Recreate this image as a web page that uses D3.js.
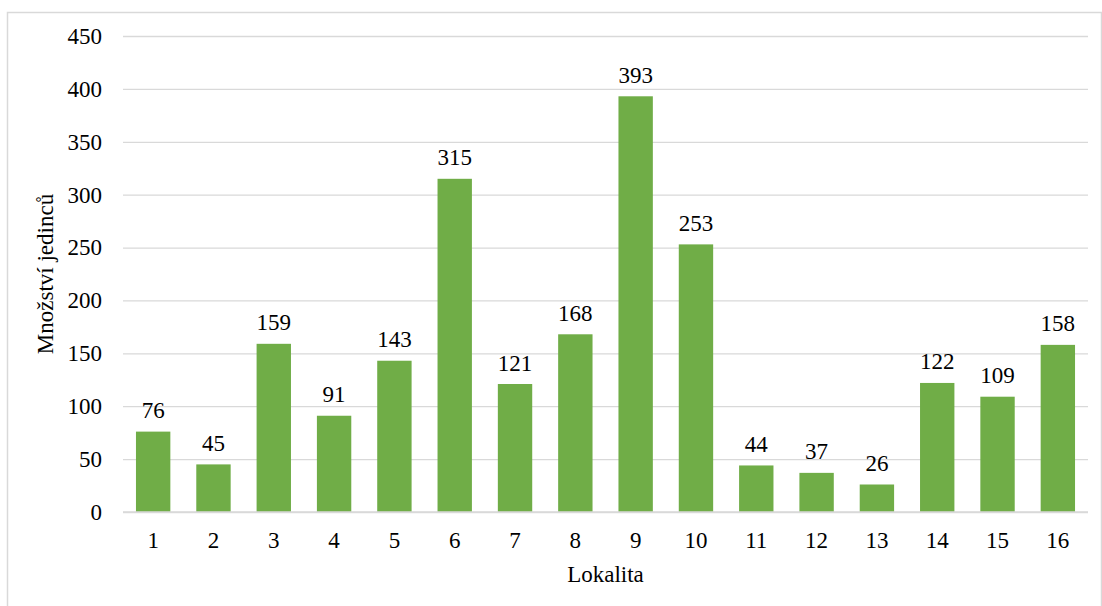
<!DOCTYPE html>
<html>
<head>
<meta charset="utf-8">
<script src="https://cdn.jsdelivr.net/npm/d3@7"></script>
<style>
  html, body { margin: 0; padding: 0; background: #fff; }
  svg { display: block; }
</style>
</head>
<body>
<svg id="chart" width="1102" height="606"></svg>
<script>
// Number of individuals per locality
const categories = ["1","2","3","4","5","6","7","8","9","10","11","12","13","14","15","16"];
const values = [76, 45, 159, 91, 143, 315, 121, 168, 393, 253, 44, 37, 26, 122, 109, 158];
const yTicks = [0, 50, 100, 150, 200, 250, 300, 350, 400, 450];
const xTitle = "Lokalita";
const yTitle = "Množství jedinců";

const FONT = "'Liberation Serif', 'Times New Roman', serif";
const FS = 23;

const svg = d3.select("#chart");
const plot = { left: 123, right: 1088, top: 36, bottom: 512 };

// Outer chart frame
svg.append("rect")
  .attr("x", 7.5).attr("y", 12.5)
  .attr("width", 1094).attr("height", 600)
  .attr("fill", "#fff").attr("stroke", "#d9d9d9").attr("stroke-width", 1.5);

const x = d3.scaleBand().domain(categories)
  .range([plot.left, plot.right]).paddingInner(0.43).paddingOuter(0.215);
const y = d3.scaleLinear().domain([0, 450]).range([plot.bottom, plot.top]);

// Horizontal gridlines and value axis labels
const yAxis = d3.axisLeft(y).tickValues(yTicks)
  .tickSize(-(plot.right - plot.left)).tickPadding(21).tickFormat(d3.format("d"));
const gy = svg.append("g").attr("transform", `translate(${plot.left},0)`).call(yAxis);
gy.select(".domain").remove();
gy.selectAll(".tick line").attr("stroke", "#d9d9d9").attr("stroke-width", 1.3);
gy.selectAll(".tick text").style("font-family", FONT).style("font-size", FS + "px").attr("fill", "#000");

// Bars
svg.append("g").selectAll("rect").data(values).join("rect")
  .attr("x", (d, i) => x(categories[i]))
  .attr("y", d => y(d))
  .attr("width", x.bandwidth())
  .attr("height", d => y(0) - y(d))
  .attr("fill", "#70ad47");

// Baseline axis
svg.append("line")
  .attr("x1", plot.left).attr("x2", plot.right)
  .attr("y1", y(0)).attr("y2", y(0))
  .attr("stroke", "#d9d9d9").attr("stroke-width", 1.5);

// Category labels
const xAxis = d3.axisBottom(x).tickSize(0).tickPadding(20);
const gx = svg.append("g").attr("transform", `translate(0,${plot.bottom})`).call(xAxis);
gx.select(".domain").remove();
gx.selectAll(".tick text").style("font-family", FONT).style("font-size", FS + "px").attr("fill", "#000");

// Value labels
svg.append("g").selectAll("text").data(values).join("text")
  .attr("x", (d, i) => x(categories[i]) + x.bandwidth() / 2)
  .attr("y", d => y(d) - 13.5)
  .attr("text-anchor", "middle")
  .style("font-family", FONT).style("font-size", FS + "px")
  .text(d => d);

// Axis titles
svg.append("text")
  .attr("x", (plot.left + plot.right) / 2).attr("y", 582)
  .attr("text-anchor", "middle")
  .style("font-family", FONT).style("font-size", FS + "px")
  .text(xTitle);

svg.append("text")
  .attr("transform", `translate(53,${(plot.top + plot.bottom) / 2}) rotate(-90)`)
  .attr("text-anchor", "middle")
  .style("font-family", FONT).style("font-size", FS + "px")
  .text(yTitle);
</script>
</body>
</html>
